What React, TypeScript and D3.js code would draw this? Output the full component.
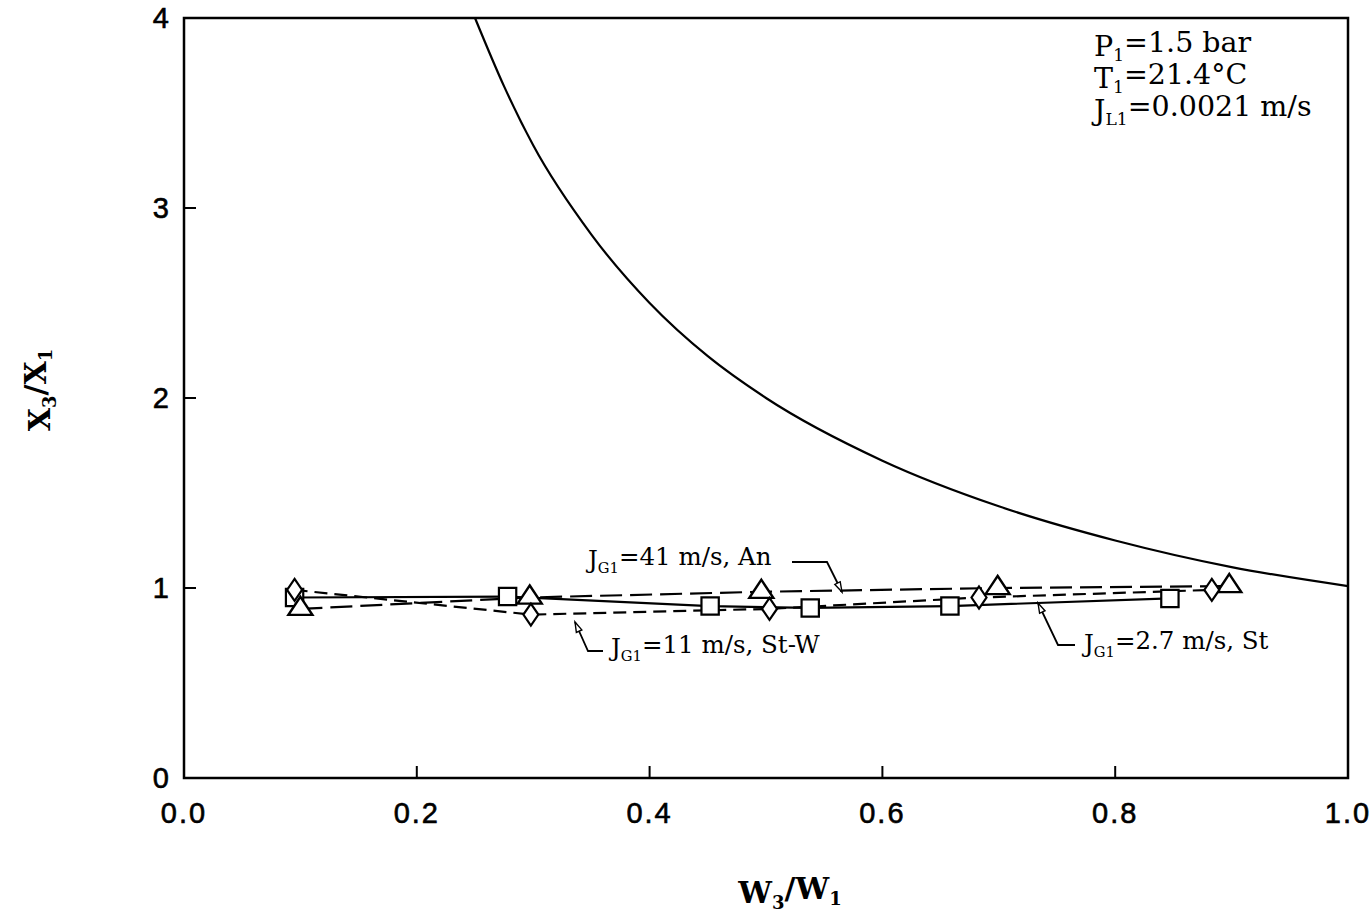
import React from "react";
import * as d3 from "d3";

// J_G1 = 2.7 m/s, St (squares, solid)
const sqX = [0.095, 0.278, 0.452, 0.538, 0.658, 0.847];
const sqY = [0.95, 0.955, 0.905, 0.895, 0.905, 0.945];
// J_G1 = 41 m/s, An (triangles, long dash)
const triX = [0.1, 0.297, 0.496, 0.699, 0.898];
const triY = [0.89, 0.95, 0.98, 1.0, 1.01];
// J_G1 = 11 m/s, St-W (diamonds, dash)
const diaX = [0.095, 0.298, 0.503, 0.683, 0.883];
const diaY = [0.99, 0.86, 0.89, 0.95, 0.99];
// theoretical curve
const curveX = [0.25, 0.275, 0.3, 0.35, 0.4, 0.45, 0.5, 0.6, 0.7, 0.8, 0.9, 1.0];
const curveY = [4.0, 3.64, 3.33, 2.86, 2.5, 2.22, 2.0, 1.67, 1.43, 1.25, 1.11, 1.01];

const xTicks = [0, 0.2, 0.4, 0.6, 0.8, 1.0];
const yTicks = [0, 1, 2, 3, 4];

const W = 1372;
const H = 924;
const margin = { top: 18, right: 24, bottom: 146, left: 184 };

const serif = "'DejaVu Serif', 'Liberation Serif', serif";
const sans = "'Liberation Sans', Arial, sans-serif";

const App = () => {
  const x = d3.scaleLinear().domain([0, 1]).range([margin.left, W - margin.right]);
  const y = d3.scaleLinear().domain([0, 4]).range([H - margin.bottom, margin.top]);

  const line = d3
    .line<[number, number]>()
    .x((d) => x(d[0]))
    .y((d) => y(d[1]));
  const smooth = d3
    .line<[number, number]>()
    .x((d) => x(d[0]))
    .y((d) => y(d[1]))
    .curve(d3.curveMonotoneX);

  const zip = (a: number[], b: number[]) => a.map((v, i) => [v, b[i]] as [number, number]);
  const sq = zip(sqX, sqY);
  const tri = zip(triX, triY);
  const dia = zip(diaX, diaY);
  const crv = zip(curveX, curveY);

  const symSq = d3.symbol(d3.symbolSquare, 300)();
  const symTri = d3.symbol(d3.symbolTriangle, 190)();

  // leader: text end -> elbow -> arrow tip
  const leader = (pts: [number, number][], tip: [number, number]) => {
    const [tx, ty] = tip;
    const [px, py] = pts[pts.length - 1];
    const ang = Math.atan2(ty - py, tx - px);
    const L = 10;
    const w = 3;
    const bx = tx - L * Math.cos(ang);
    const by = ty - L * Math.sin(ang);
    const head = `M${tx},${ty}L${bx + w * Math.sin(ang)},${by - w * Math.cos(ang)}L${bx - w * Math.sin(ang)},${by + w * Math.cos(ang)}Z`;
    return (
      <g>
        <path
          d={"M" + [...pts, tip].map((p) => p.join(",")).join("L")}
          fill="none"
          stroke="black"
          strokeWidth={1.8}
        />
        <path d={head} fill="white" stroke="black" strokeWidth={1.4} />
      </g>
    );
  };

  const sub = (t: string) => (
    <tspan fontSize="0.6em" dy="0.32em">
      {t}
    </tspan>
  );

  return (
    <svg width={W} height={H} style={{ position: "absolute", left: 0, top: 0, background: "white" }}>
      {/* frame */}
      <rect
        x={x(0)}
        y={y(4)}
        width={x(1) - x(0)}
        height={y(0) - y(4)}
        fill="none"
        stroke="black"
        strokeWidth={2.5}
      />
      {/* ticks */}
      {xTicks.slice(1, -1).map((t) => (
        <line key={"xt" + t} x1={x(t)} x2={x(t)} y1={y(0)} y2={y(0) - 12} stroke="black" strokeWidth={2} />
      ))}
      {yTicks.slice(1, -1).map((t) => (
        <line key={"yt" + t} x1={x(0)} x2={x(0) + 12} y1={y(t)} y2={y(t)} stroke="black" strokeWidth={2} />
      ))}
      {xTicks.map((t) => (
        <text
          key={"xl" + t}
          x={x(t)}
          y={y(0) + 45}
          textAnchor="middle"
          fontFamily={sans}
          fontSize={29}
          letterSpacing={2}
          stroke="black"
          strokeWidth={0.6}
        >
          {t.toFixed(1)}
        </text>
      ))}
      {yTicks.map((t) => (
        <text
          key={"yl" + t}
          x={x(0) - 15}
          y={y(t) + 10}
          textAnchor="end"
          fontFamily={sans}
          fontSize={29}
          stroke="black"
          strokeWidth={0.6}
        >
          {t}
        </text>
      ))}

      {/* axis titles */}
      <text x={790} y={903} textAnchor="middle" fontFamily={serif} fontWeight="bold" fontSize={30}>
        W{sub("3")}
        <tspan dy="-0.32em">/W</tspan>
        {sub("1")}
      </text>
      <text
        transform="translate(50,390) rotate(-90)"
        textAnchor="middle"
        fontFamily={serif}
        fontWeight="bold"
        fontSize={30}
      >
        X{sub("3")}
        <tspan dy="-0.32em">/X</tspan>
        {sub("1")}
      </text>

      {/* theoretical curve */}
      <path d={smooth(crv) ?? ""} fill="none" stroke="black" strokeWidth={2.2} />

      {/* series lines */}
      <path d={line(sq) ?? ""} fill="none" stroke="black" strokeWidth={2.2} />
      <path d={line(tri) ?? ""} fill="none" stroke="black" strokeWidth={2.2} strokeDasharray="22 8" />
      <path d={line(dia) ?? ""} fill="none" stroke="black" strokeWidth={2.2} strokeDasharray="13 7" />

      {/* markers */}
      {sq.map((d, i) => (
        <path key={"s" + i} d={symSq ?? ""} transform={`translate(${x(d[0])},${y(d[1])})`} fill="white" stroke="black" strokeWidth={2.2} />
      ))}
      {tri.map((d, i) => (
        <path key={"t" + i} d={symTri ?? ""} transform={`translate(${x(d[0])},${y(d[1])}) scale(1.15,1)`} fill="white" stroke="black" strokeWidth={2.2} />
      ))}
      {dia.map((d, i) => (
        <path
          key={"d" + i}
          d="M0,-11L7.5,0L0,11L-7.5,0Z"
          transform={`translate(${x(d[0])},${y(d[1])})`}
          fill="white"
          stroke="black"
          strokeWidth={2.2}
        />
      ))}

      {/* series labels */}
      {leader([[792, 562], [827, 562]], [842, 592])}
      <text x={588} y={568} fontFamily={serif} fontSize={24.5}>
        J{sub("G1")}
        <tspan dy="-0.32em">=41 m/s, An</tspan>
      </text>
      {leader([[603, 651], [588, 651]], [575, 622])}
      <text x={611} y={656} fontFamily={serif} fontSize={24.5}>
        J{sub("G1")}
        <tspan dy="-0.32em">=11 m/s, St-W</tspan>
      </text>
      {leader([[1075, 645], [1058, 645]], [1038, 603])}
      <text x={1084} y={652} fontFamily={serif} fontSize={24.5}>
        J{sub("G1")}
        <tspan dy="-0.32em">=2.7 m/s, St</tspan>
      </text>

      {/* conditions */}
      <g fontFamily={serif} fontSize={28.5}>
        <text x={1094} y={56}>
          P{sub("1")}
          <tspan dy="-0.32em">=1.5 bar</tspan>
        </text>
        <text x={1094} y={88}>
          T{sub("1")}
          <tspan dy="-0.32em">=21.4°C</tspan>
        </text>
        <text x={1094} y={120}>
          J{sub("L1")}
          <tspan dy="-0.32em">=0.0021 m/s</tspan>
        </text>
      </g>
    </svg>
  );
};

export default App;
